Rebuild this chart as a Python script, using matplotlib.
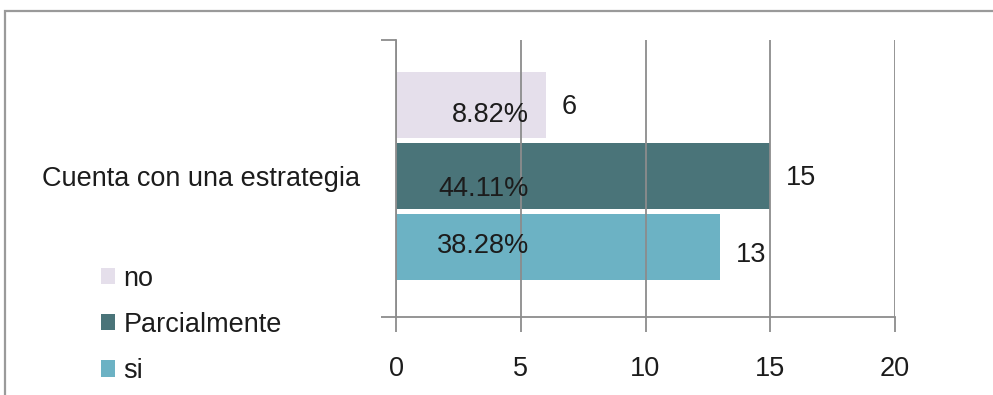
import matplotlib
matplotlib.use("Agg")
import matplotlib.pyplot as plt
from matplotlib.patches import Rectangle, Patch

# data
category = "Cuenta con una estrategia"
series = ["no", "Parcialmente", "si"]
counts = [6, 15, 13]
percents = ["8.82%", "44.11%", "38.28%"]
colors = ["#e5dfeb", "#4a7479", "#6cb2c4"]
xticks = [0, 5, 10, 15, 20]

plt.rcParams["font.family"] = ["Liberation Sans", "DejaVu Sans"]
text_color = "#1c1c1c"
line_color = "#8c8c8c"

fig = plt.figure(figsize=(9.93, 3.95), dpi=100)
ax = fig.add_axes([396 / 993, 1 - 317 / 395, 499 / 993, 277 / 395])

# outer frame of the chart area
fig.patches.append(Rectangle((5 / 993, -0.1), 1.2, 1.1 - 11 / 395,
                             transform=fig.transFigure, fill=False,
                             edgecolor="#9a9a9a", lw=1.6))

ypos = [2, 1, 0]
ax.barh(ypos, counts, height=0.93, color=colors, zorder=1)

# label nudges in pixels (percent inside the bar, count after it)
pct_dy = [-10, -13, 1]
cnt_dy = [-2, -2, -8]
for y, c, p, dp, dc in zip(ypos, counts, percents, pct_dy, cnt_dy):
    ax.annotate(p, xy=(0, y), xytext=(133, dp), textcoords="offset pixels",
                ha="right", va="center", fontsize=19.5, color=text_color, zorder=4)
    ax.annotate(str(c), xy=(c, y), xytext=(16, dc), textcoords="offset pixels",
                ha="left", va="center", fontsize=19.5, color=text_color, zorder=4)

ax.set_xlim(0, 20)
ax.set_ylim(-0.98, 2.92)
ax.set_xticks(xticks)
ax.set_xticklabels([str(t) for t in xticks])
ax.xaxis.grid(True, color=line_color, lw=1.3, zorder=2)
ax.set_axisbelow(False)
ax.tick_params(axis="x", length=11, width=1.3, color=line_color, pad=17,
               labelsize=19.5, labelcolor=text_color)

ax.set_yticks([1])
ax.set_yticklabels([category])
ax.set_yticks([-0.98, 2.92], minor=True)
ax.tick_params(axis="y", which="major", length=0, pad=26,
               labelsize=19.5, labelcolor=text_color)
ax.tick_params(axis="y", which="minor", length=11, width=1.3, color=line_color)

for side in ["top", "right"]:
    ax.spines[side].set_visible(False)
for side in ["left", "bottom"]:
    ax.spines[side].set_color(line_color)
    ax.spines[side].set_linewidth(1.3)

handles = [Patch(facecolor=c, edgecolor="none") for c in colors]
fig.legend(handles, series, loc="upper left", bbox_to_anchor=(87 / 993, 1 - 252 / 395),
           frameon=False, fontsize=19.5, handlelength=0.55, handleheight=0.55,
           handletextpad=0.3, labelspacing=0.75, borderpad=0, labelcolor=text_color)

fig.savefig("out.png", dpi=100)
